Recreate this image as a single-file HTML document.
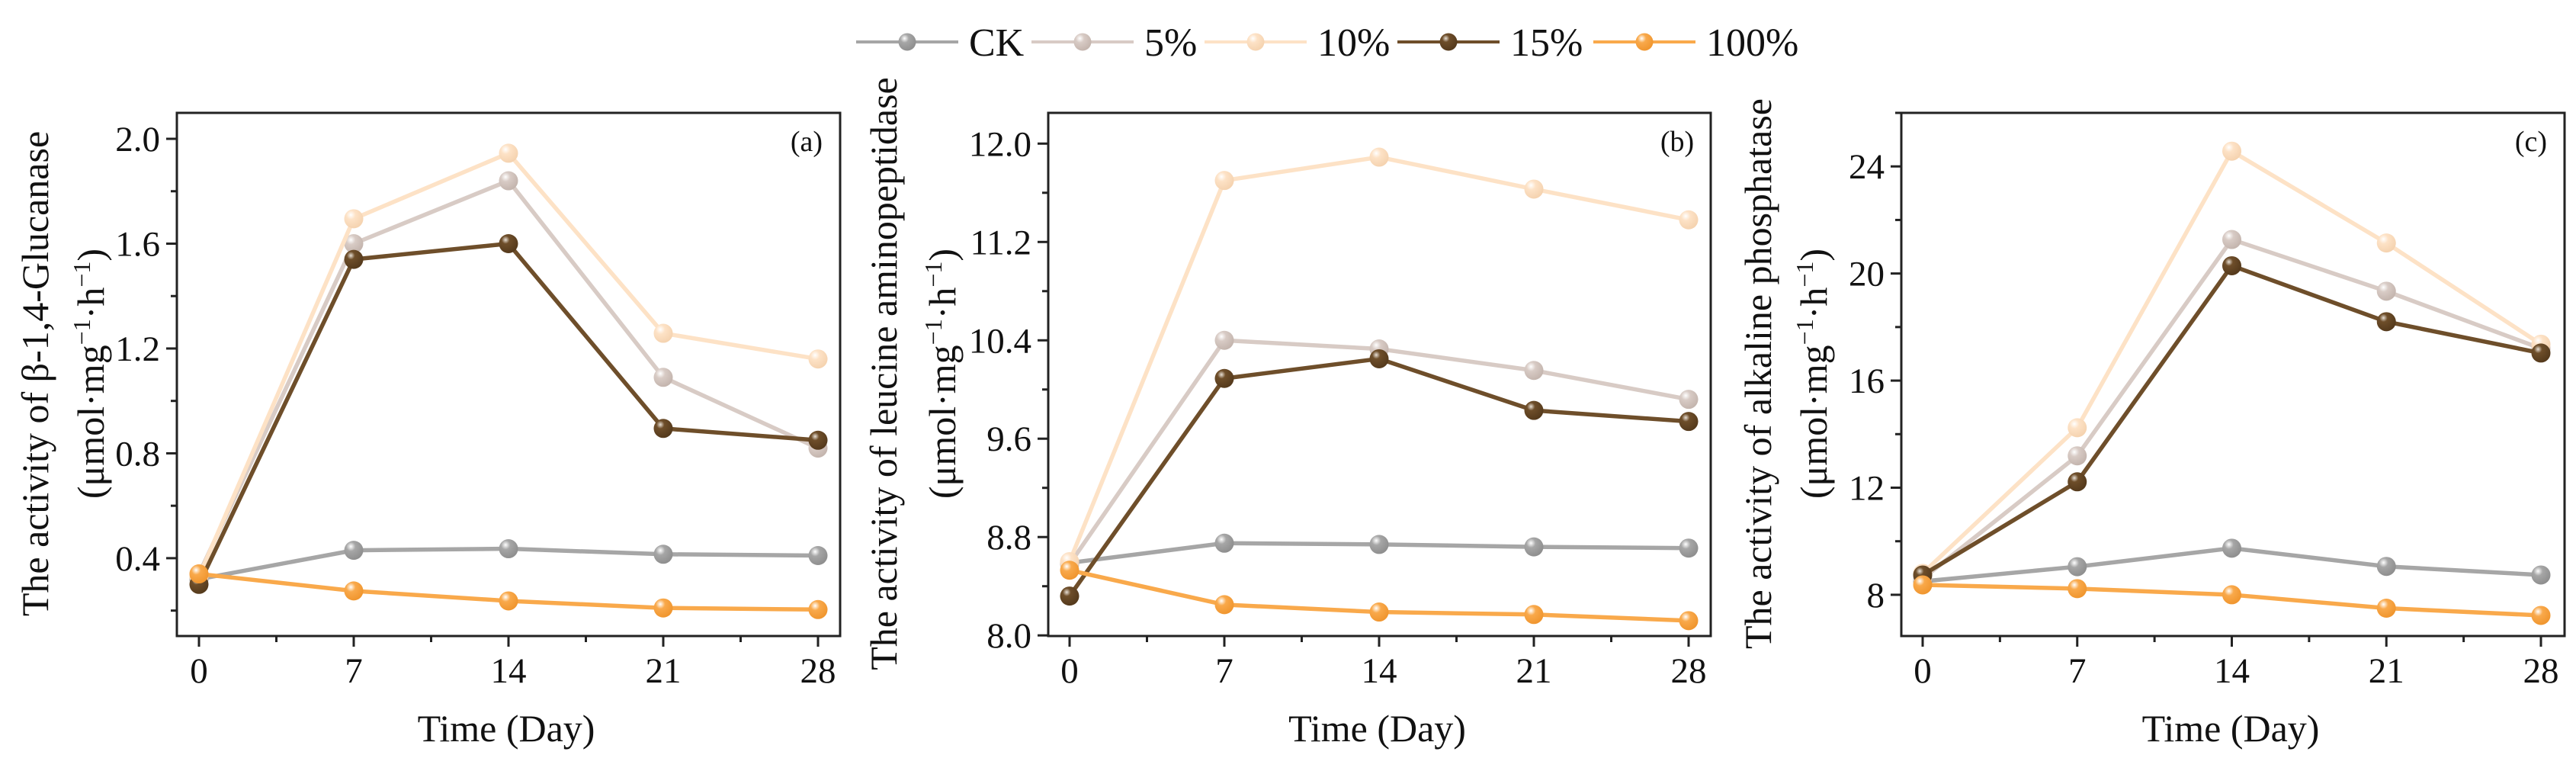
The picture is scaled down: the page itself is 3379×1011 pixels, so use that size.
<!DOCTYPE html>
<html><head><meta charset="utf-8">
<style>
html,body{margin:0;padding:0;background:#fff;}
svg{display:block;font-family:"Liberation Serif","DejaVu Serif",serif;}
</style></head>
<body>
<svg id="fig" width="3379" height="1011" viewBox="0 0 3379 1011" xmlns="http://www.w3.org/2000/svg">
<defs>
<radialGradient id="g0" cx="0.35" cy="0.3" r="0.7"><stop offset="0" stop-color="#ffffff"/><stop offset="0.35" stop-color="#a6a6a6"/><stop offset="1" stop-color="#8f8f8f"/></radialGradient>
<radialGradient id="g1" cx="0.35" cy="0.3" r="0.7"><stop offset="0" stop-color="#ffffff"/><stop offset="0.35" stop-color="#d8cbc5"/><stop offset="1" stop-color="#c4b5ae"/></radialGradient>
<radialGradient id="g2" cx="0.35" cy="0.3" r="0.7"><stop offset="0" stop-color="#ffffff"/><stop offset="0.35" stop-color="#fde2c6"/><stop offset="1" stop-color="#f5d3b0"/></radialGradient>
<radialGradient id="g3" cx="0.35" cy="0.3" r="0.7"><stop offset="0" stop-color="#e8e0d6"/><stop offset="0.3" stop-color="#6e4e2a"/><stop offset="1" stop-color="#553a1c"/></radialGradient>
<radialGradient id="g4" cx="0.35" cy="0.3" r="0.7"><stop offset="0" stop-color="#ffffff"/><stop offset="0.35" stop-color="#f9a94b"/><stop offset="1" stop-color="#f0962f"/></radialGradient>
</defs>
</svg>
<script>
const days = [0, 7, 14, 21, 28];
const seriesNames = ["CK", "5%", "10%", "15%", "100%"];
const seriesColors = ["#a6a6a6", "#d8cbc5", "#fde2c6", "#6e4e2a", "#f9a94b"];
// Panel (a) beta-1,4-Glucanase
const aCK   = [0.32, 0.43, 0.436, 0.415, 0.41];
const a5    = [0.34, 1.60, 1.84, 1.09, 0.82];
const a10   = [0.33, 1.695, 1.945, 1.258, 1.16];
const a15   = [0.30, 1.54, 1.60, 0.895, 0.85];
const a100  = [0.34, 0.275, 0.237, 0.21, 0.204];
const aTicks = ["0.4", "0.8", "1.2", "1.6", "2.0"];
// Panel (b) leucine aminopeptidase
const bCK   = [8.59, 8.75, 8.74, 8.72, 8.71];
const b5    = [8.58, 10.40, 10.33, 10.155, 9.92];
const b10   = [8.60, 11.70, 11.89, 11.63, 11.38];
const b15   = [8.32, 10.09, 10.25, 9.83, 9.74];
const b100  = [8.53, 8.25, 8.19, 8.17, 8.12];
const bTicks = ["8.0", "8.8", "9.6", "10.4", "11.2", "12.0"];
// Panel (c) alkaline phosphatase
const cCK   = [8.5, 9.05, 9.74, 9.06, 8.74];
const c5    = [8.6, 13.19, 21.27, 19.34, 17.2];
const c10   = [8.8, 14.24, 24.57, 21.14, 17.36];
const c15   = [8.74, 12.22, 20.29, 18.2, 17.03];
const c100  = [8.37, 8.23, 8.0, 7.5, 7.23];
const cTicks = ["8", "12", "16", "20", "24"];

const NS = "http://www.w3.org/2000/svg";
const svg = document.getElementById('fig');
function mk(tag, attrs, parent) {
  const e = document.createElementNS(NS, tag);
  for (const k in attrs) e.setAttribute(k, attrs[k]);
  (parent || svg).appendChild(e);
  return e;
}

const panels = [
  {id:"a", series:[aCK,a5,a10,a15,a100], ticks:aTicks, minorStep:0.2, ymin:0.103, ymax:2.099,
   left:232, right:1102, x0:261, x28:1073, title1:"The activity of β-1,4-Glucanase", t1x:46, t2x:119},
  {id:"b", series:[bCK,b5,b10,b15,b100], ticks:bTicks, minorStep:0.4, ymin:7.995, ymax:12.25,
   left:1375, right:2244, x0:1403, x28:2215, title1:"The activity of leucine aminopeptidase", t1x:1159, t2x:1236},
  {id:"c", series:[cCK,c5,c10,c15,c100], ticks:cTicks, minorStep:2, ymin:6.46, ymax:26.0,
   left:2494, right:3364, x0:2522, x28:3333, title1:"The activity of alkaline phosphatase", t1x:2306, t2x:2379}
];
const TOP = 148, BOT = 834;

panels.forEach(p => {
  const g = mk('g', {});
  
  
  const xs = d => p.x0 + (d - days[0]) / (days[days.length-1] - days[0]) * (p.x28 - p.x0);
  const ys = v => BOT - (v - p.ymin) / (p.ymax - p.ymin) * (BOT - TOP);
  const fr = mk('rect', {x:p.left, y:TOP, width:p.right-p.left, height:BOT-TOP, fill:'none', stroke:'#222', 'stroke-width':3}, g);
  
  
  const tv = p.ticks.map(Number);
  for (let v = tv[0]-p.minorStep*Math.floor((tv[0]-p.ymin)/p.minorStep); v <= p.ymax+1e-9; v += p.minorStep) {
    const y = ys(v);
    if (y < TOP-0.5 || y > BOT+0.5) continue;
    const major = tv.some(t => Math.abs(t - v) < 1e-6);
    mk('line', {x1:p.left, x2:p.left-(major?14:8), y1:y, y2:y, stroke:'#222', 'stroke-width':3}, g);
  }
  p.ticks.forEach(t => {
    const tx = mk('text', {x:p.left-22, y:ys(Number(t))+16, 'font-size':47, 'text-anchor':'end', fill:'#111'}, g);
    tx.textContent = t;
    
    
  });
  for (let i = 0; i < days.length; i++) {
    const x = xs(days[i]);
    mk('line', {x1:x, x2:x, y1:BOT, y2:BOT+14, stroke:'#222', 'stroke-width':3}, g);
    if (i < days.length-1) {
      const xm = xs((days[i]+days[i+1])/2);
      mk('line', {x1:xm, x2:xm, y1:BOT, y2:BOT+8, stroke:'#222', 'stroke-width':3}, g);
    }
    const tx = mk('text', {x:x, y:895, 'font-size':47, 'text-anchor':'middle', fill:'#111'}, g);
    tx.textContent = String(days[i]);
    
    
  }
  const xt = mk('text', {x:(p.left+p.right)/2 - 3, y:972, 'font-size':50, 'text-anchor':'middle', fill:'#111'}, g);
  xt.textContent = 'Time (Day)';
  
  
  const cy = 490;
  const yt1 = mk('text', {x:p.t1x+17, y:cy, 'font-size':50, 'text-anchor':'middle', fill:'#111', transform:`rotate(-90 ${p.t1x+17} ${cy})`}, g);
  yt1.textContent = p.title1;
  
  
  const yt2 = mk('text', {x:p.t2x+17, y:cy, 'font-size':50, 'text-anchor':'middle', fill:'#111', transform:`rotate(-90 ${p.t2x+17} ${cy})`}, g);
  yt2.innerHTML = '(μmol·mg<tspan dy="-18" font-size="32">−1</tspan><tspan dy="18">·h</tspan><tspan dy="-18" font-size="32">−1</tspan><tspan dy="18">)</tspan>';
  
  
  const pl = mk('text', {x:p.right-44, y:TOP+50, 'font-size':38, 'text-anchor':'middle', fill:'#111'}, g);
  pl.textContent = '(' + p.id + ')';
  
  
  p.series.forEach((vals, si) => {
    const sg = mk('g', {}, g);
    
    
    const pts = vals.map((v,i) => xs(days[i]) + ',' + ys(v)).join(' ');
    const pl2 = mk('polyline', {points:pts, fill:'none', stroke:seriesColors[si], 'stroke-width':5.5, 'stroke-linejoin':'round'}, sg);
    
    
    vals.forEach((v,i) => {
      const c = mk('circle', {cx:xs(days[i]), cy:ys(v), r:12.5, fill:`url(#g${si})`}, sg);
      
      
    });
  });
});

const legendLineX = [1123, 1353, 1580, 1833, 2090];
const lg = mk('g', {});


seriesNames.forEach((n, i) => {
  const eg = mk('g', {}, lg);
  
  
  const x = legendLineX[i];
  mk('line', {x1:x, x2:x+134, y1:55, y2:55, stroke:seriesColors[i], 'stroke-width':4}, eg);
  mk('circle', {cx:x+67, cy:55, r:11.5, fill:`url(#g${i})`}, eg);
  const t = mk('text', {x:x+148, y:73, 'font-size':52, fill:'#111'}, eg);
  t.textContent = n;
});
</script>
</body></html>
